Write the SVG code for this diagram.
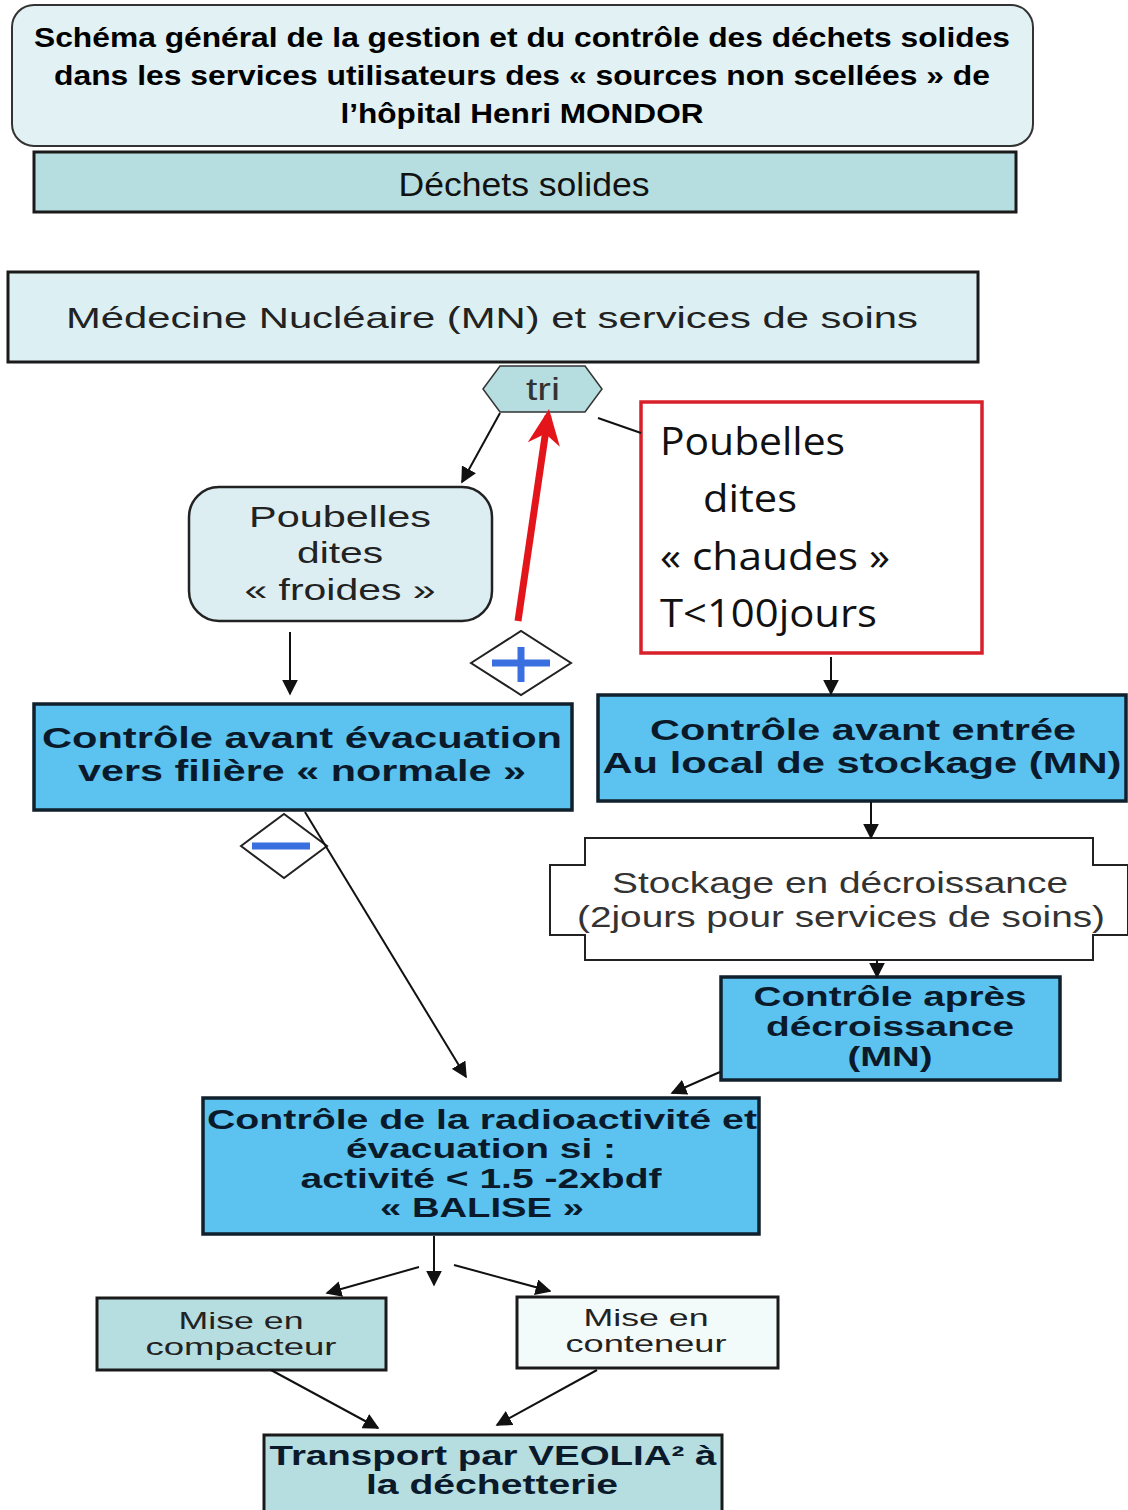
<svg xmlns="http://www.w3.org/2000/svg" width="1128" height="1510" viewBox="0 0 1128 1510">
<defs>
<style>
text{font-family:"Liberation Sans",Arial,sans-serif;fill:#111;text-anchor:middle}
.b{font-weight:bold}
.t{font-size:28px;font-weight:bold;fill:#000}
.n{font-size:30px;fill:#222}
.bb{font-size:29px;font-weight:bold;fill:#0b1a2a}
.s{font-size:24px;fill:#222}
.cal{font-family:"Open Sans","Liberation Sans",sans-serif;font-size:38px;text-anchor:start;fill:#111}
.box{stroke:#1a1a1a;stroke-width:3}
.blue{fill:#5cc3f0;stroke:#10202c;stroke-width:3.5}
.teal{fill:#b6dde0}
.ln{stroke:#111;stroke-width:2;fill:none}
</style>
<marker id="ahb" viewBox="0 0 10 10" refX="9" refY="5" markerWidth="16" markerHeight="16" orient="auto" markerUnits="userSpaceOnUse">
<path d="M0,0 L10,5 L0,10 z" fill="#111"/>
</marker>
<marker id="ahr" viewBox="0 0 10 10" refX="8" refY="5" markerWidth="36" markerHeight="36" orient="auto" markerUnits="userSpaceOnUse">
<path d="M0,0.5 L10,5 L0,9.5 L3,5 z" fill="#e3151b"/>
</marker>
</defs>

<g id="title">
<rect x="12" y="5" width="1021" height="141" rx="22" fill="#e2f1f3" stroke="#333" stroke-width="2"/>
<text class="t" x="522" y="47" textLength="976" lengthAdjust="spacingAndGlyphs">Schéma général de la gestion et du contrôle des déchets solides</text>
<text class="t" x="522" y="85" textLength="936" lengthAdjust="spacingAndGlyphs">dans les services utilisateurs des « sources non scellées » de</text>
<text class="t" x="522" y="123" textLength="363" lengthAdjust="spacingAndGlyphs">l’hôpital Henri MONDOR</text>
</g>

<g id="dechets">
<rect x="34" y="152" width="982" height="60" class="teal box"/>
<text x="524" y="196" style="font-size:33px;fill:#111" textLength="251" lengthAdjust="spacingAndGlyphs">Déchets solides</text>
</g>

<g id="mn">
<rect x="8" y="272" width="970" height="90" fill="#dcf0f3" class="box"/>
<text class="n" x="492" y="328" textLength="852" lengthAdjust="spacingAndGlyphs">Médecine Nucléaire (MN) et services de soins</text>
</g>

<g id="tri">
<polygon points="483,389 500,366 585,366 602,389 585,412 500,412" fill="#b6dde0" stroke="#333" stroke-width="1.5"/>
<text x="543" y="400" style="font-size:31px;fill:#333" textLength="34" lengthAdjust="spacingAndGlyphs">tri</text>
</g>

<g id="froides">
<rect x="189" y="487" width="303" height="134" rx="30" fill="#dceef2" stroke="#222" stroke-width="2.5"/>
<text class="n" x="340" y="527" textLength="182" lengthAdjust="spacingAndGlyphs">Poubelles</text>
<text class="n" x="340" y="563" textLength="86" lengthAdjust="spacingAndGlyphs">dites</text>
<text class="n" x="340" y="600" textLength="191" lengthAdjust="spacingAndGlyphs">« froides »</text>
</g>

<g id="chaudes">
<rect x="641" y="402" width="341" height="251" fill="#fff" stroke="#d9202a" stroke-width="3.5"/>
<text class="cal" x="660" y="455" textLength="185" lengthAdjust="spacingAndGlyphs">Poubelles</text>
<text class="cal" x="703" y="512" textLength="94" lengthAdjust="spacingAndGlyphs">dites</text>
<text class="cal" x="660" y="570" textLength="230" lengthAdjust="spacingAndGlyphs">« chaudes »</text>
<text class="cal" x="660" y="627" textLength="217" lengthAdjust="spacingAndGlyphs">T&lt;100jours</text>
</g>

<g id="plus">
<polygon points="471,663 521,631 571,663 521,695" fill="#fff" stroke="#222" stroke-width="2"/>
<path d="M492,663 H550 M521,647 V682" stroke="#3a6fe0" stroke-width="7" fill="none"/>
</g>

<g id="ctrl-normal">
<rect x="34" y="704" width="538" height="106" class="blue"/>
<text class="bb" x="302" y="748" textLength="520" lengthAdjust="spacingAndGlyphs">Contrôle avant évacuation</text>
<text class="bb" x="302" y="781" textLength="448" lengthAdjust="spacingAndGlyphs">vers filière « normale »</text>
</g>

<g id="ctrl-entree">
<rect x="598" y="695" width="528" height="106" class="blue"/>
<text class="bb" x="863" y="740" textLength="426" lengthAdjust="spacingAndGlyphs">Contrôle avant entrée</text>
<text class="bb" x="862" y="773" textLength="519" lengthAdjust="spacingAndGlyphs">Au local de stockage (MN)</text>
</g>

<g id="minus">
<polygon points="241,846 284,814 327,846 284,878" fill="#fff" stroke="#222" stroke-width="2"/>
<path d="M252,846 H310" stroke="#3a6fe0" stroke-width="7" fill="none"/>
</g>

<g id="stockage">
<path d="M585,838 H1093 V865 H1128 V935 H1093 V960 H585 V935 H550 V865 H585 Z" fill="#fff" stroke="#222" stroke-width="2"/>
<text x="840" y="893" style="font-size:29px;fill:#333" textLength="456" lengthAdjust="spacingAndGlyphs">Stockage en décroissance</text>
<text x="841" y="927" style="font-size:29px;fill:#333" textLength="528" lengthAdjust="spacingAndGlyphs">(2jours pour services de soins)</text>
</g>

<g id="ctrl-apres">
<rect x="721" y="977" width="339" height="103" class="blue"/>
<text class="bb" x="890" y="1006" style="font-size:28px" textLength="273" lengthAdjust="spacingAndGlyphs">Contrôle après</text>
<text class="bb" x="890" y="1036" style="font-size:28px" textLength="248" lengthAdjust="spacingAndGlyphs">décroissance</text>
<text class="bb" x="890" y="1066" style="font-size:28px" textLength="85" lengthAdjust="spacingAndGlyphs">(MN)</text>
</g>

<g id="ctrl-radio">
<rect x="203" y="1098" width="556" height="136" class="blue"/>
<text class="bb" x="482" y="1129" style="font-size:28px" textLength="550" lengthAdjust="spacingAndGlyphs">Contrôle de la radioactivité et</text>
<text class="bb" x="481" y="1158" style="font-size:28px" textLength="270" lengthAdjust="spacingAndGlyphs">évacuation si :</text>
<text class="bb" x="481" y="1188" style="font-size:28px" textLength="361" lengthAdjust="spacingAndGlyphs">activité &lt; 1.5 -2xbdf</text>
<text class="bb" x="482" y="1217" style="font-size:28px" textLength="204" lengthAdjust="spacingAndGlyphs">« BALISE »</text>
</g>

<g id="compacteur">
<rect x="97" y="1298" width="289" height="72" class="teal box"/>
<text class="s" x="241" y="1329" textLength="125" lengthAdjust="spacingAndGlyphs">Mise en</text>
<text class="s" x="241" y="1355" textLength="191" lengthAdjust="spacingAndGlyphs">compacteur</text>
</g>

<g id="conteneur">
<rect x="517" y="1297" width="261" height="71" fill="#f3fafa" class="box"/>
<text class="s" x="646" y="1326" textLength="125" lengthAdjust="spacingAndGlyphs">Mise en</text>
<text class="s" x="646" y="1352" textLength="161" lengthAdjust="spacingAndGlyphs">conteneur</text>
</g>

<g id="transport">
<rect x="264" y="1435" width="458" height="85" class="teal box"/>
<text class="bb" x="493" y="1465" style="font-size:28px" textLength="447" lengthAdjust="spacingAndGlyphs">Transport par VEOLIA² à</text>
<text class="bb" x="492" y="1494" style="font-size:28px" textLength="252" lengthAdjust="spacingAndGlyphs">la déchetterie</text>
</g>

<g id="connectors">
<line x1="500" y1="413" x2="462" y2="482" class="ln" marker-end="url(#ahb)"/>
<line x1="598" y1="418" x2="641" y2="433" class="ln"/>
<line x1="518" y1="621" x2="548" y2="416" stroke="#e3151b" stroke-width="7" marker-end="url(#ahr)"/>
<line x1="290" y1="632" x2="290" y2="694" class="ln" marker-end="url(#ahb)"/>
<line x1="831" y1="657" x2="831" y2="694" class="ln" marker-end="url(#ahb)"/>
<line x1="305" y1="812" x2="466" y2="1077" class="ln" marker-end="url(#ahb)"/>
<line x1="871" y1="802" x2="871" y2="838" class="ln" marker-end="url(#ahb)"/>
<line x1="877" y1="960" x2="877" y2="977" class="ln" marker-end="url(#ahb)"/>
<line x1="720" y1="1072" x2="672" y2="1093" class="ln" marker-end="url(#ahb)"/>
<line x1="434" y1="1236" x2="434" y2="1285" class="ln" marker-end="url(#ahb)"/>
<line x1="419" y1="1267" x2="327" y2="1293" class="ln" marker-end="url(#ahb)"/>
<line x1="454" y1="1265" x2="550" y2="1291" class="ln" marker-end="url(#ahb)"/>
<line x1="271" y1="1370" x2="378" y2="1428" class="ln" marker-end="url(#ahb)"/>
<line x1="597" y1="1370" x2="497" y2="1425" class="ln" marker-end="url(#ahb)"/>
</g>
</svg>
